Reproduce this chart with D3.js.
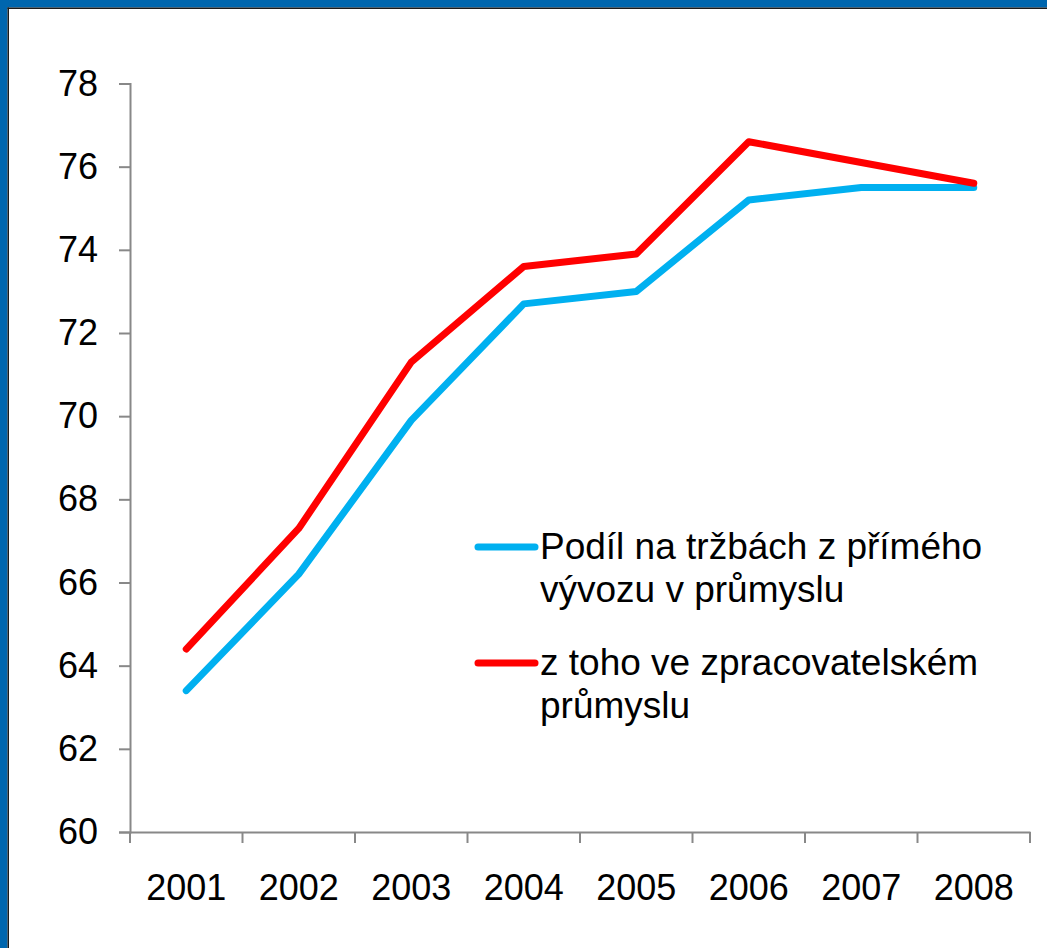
<!DOCTYPE html>
<html><head><meta charset="utf-8">
<script src="https://cdn.jsdelivr.net/npm/d3@7"></script>
<style>
html,body{margin:0;padding:0;background:#fff;}
svg{display:block;}
text{font-family:"Liberation Sans",Arial,sans-serif;fill:#000;}
</style></head>
<body>
<svg id="c" width="1047" height="948"></svg>
<script>
const years = ["2001","2002","2003","2004","2005","2006","2007","2008"];
const exportShare = [63.4, 66.2, 69.9, 72.7, 73.0, 75.2, 75.5, 75.5];
const manufacturingShare = [64.4, 67.3, 71.3, 73.6, 73.9, 76.6, 76.1, 75.6];
const yTicks = [60, 62, 64, 66, 68, 70, 72, 74, 76, 78];
const seriesNames = [["Podíl na tržbách z přímého", "vývozu v průmyslu"], ["z toho ve zpracovatelském", "průmyslu"]];
const seriesColors = ["#00B0F0", "#FF0000"];

const svg = d3.select("#c");
// frame
svg.append("rect").attr("x",0).attr("y",0).attr("width",1047).attr("height",948).attr("fill","#fff");
svg.append("rect").attr("x",0).attr("y",0).attr("width",1047).attr("height",7.5).attr("fill","#0066AE");
svg.append("rect").attr("x",0).attr("y",0).attr("width",7.5).attr("height",948).attr("fill","#0066AE");
svg.append("rect").attr("x",7.5).attr("y",7.5).attr("width",1040).attr("height",1.5).attr("fill","#1a1a1a");
svg.append("rect").attr("x",7.5).attr("y",7.5).attr("width",1.5).attr("height",941).attr("fill","#1a1a1a");

const x = d3.scaleBand().domain(years).range([130, 1030]);
const y = d3.scaleLinear().domain([60, 78]).range([832, 83.5]);

const axisColor = "#888";
// y axis
const yAxis = svg.append("g").attr("transform","translate(130,0)")
  .call(d3.axisLeft(y).tickValues(yTicks).tickSize(11).tickPadding(21).tickFormat(d3.format("d")));
yAxis.select(".domain").attr("stroke",axisColor).attr("stroke-width",2);
yAxis.selectAll(".tick line").attr("stroke",axisColor).attr("stroke-width",2);
yAxis.selectAll(".tick text").attr("font-size","36px").attr("font-family","Liberation Sans, Arial, sans-serif").attr("fill","#000");

// x axis
const xAxis = svg.append("g").attr("transform","translate(0,832)")
  .call(d3.axisBottom(x).tickSize(0).tickPadding(42));
xAxis.select(".domain").attr("stroke",axisColor).attr("stroke-width",2);
xAxis.selectAll(".tick text").attr("font-size","36px").attr("font-family","Liberation Sans, Arial, sans-serif").attr("fill","#000");
// category boundary ticks
const bounds = years.map(d => x(d)).concat([x(years[years.length-1]) + x.bandwidth()]);
svg.append("g").selectAll("line").data(bounds).join("line")
  .attr("x1",d=>d).attr("x2",d=>d).attr("y1",832).attr("y2",843)
  .attr("stroke",axisColor).attr("stroke-width",2);

const line = d3.line().x((d,i)=>x(years[i]) + x.bandwidth()/2).y(d=>y(d));
[exportShare, manufacturingShare].forEach((s,k)=>{
  svg.append("path").datum(s).attr("d",line).attr("fill","none")
    .attr("stroke",seriesColors[k]).attr("stroke-width",7)
    .attr("stroke-linecap","round").attr("stroke-linejoin","round");
});

// legend
const legY = [547, 663];
seriesNames.forEach((lines,k)=>{
  const g = svg.append("g");
  g.append("line").attr("x1",478).attr("x2",535).attr("y1",legY[k]).attr("y2",legY[k])
    .attr("stroke",seriesColors[k]).attr("stroke-width",7).attr("stroke-linecap","round");
  lines.forEach((t,j)=>{
    g.append("text").attr("x",540).attr("y",legY[k]+12+j*43).attr("font-size","37px").text(t);
  });
});
</script>
</body></html>
